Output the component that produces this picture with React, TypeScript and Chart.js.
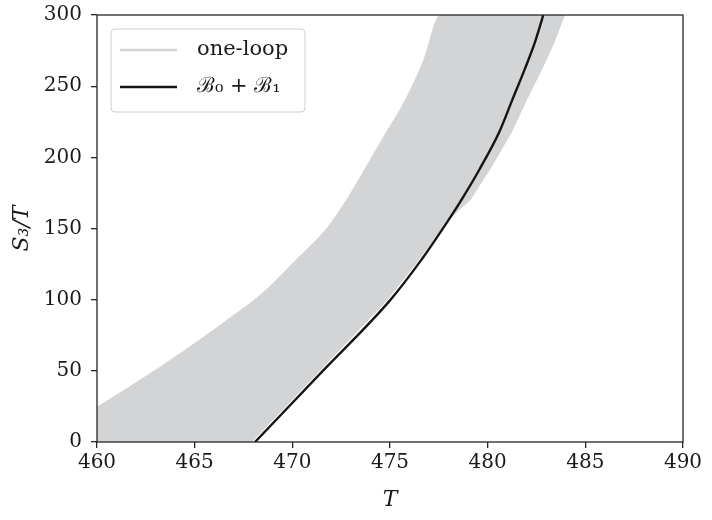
import React, { useEffect, useRef } from "react";
import { Chart, registerables } from "chart.js";

Chart.register(...registerables);

// one-loop band: upper (left) edge
const oneLoopUpperT = [460, 461.6, 463.3, 465.0, 466.7, 468.4, 470.1, 471.85, 472.75, 473.7, 474.7, 475.75, 476.7, 477.56, 484.5];
const oneLoopUpperS = [24.8, 38.5, 53.5, 69.5, 86.5, 104, 127, 152, 170, 192, 215.5, 240, 268, 300, 300];
// one-loop band: lower (right) edge
const oneLoopLowerT = [460, 467.94, 474.85, 476.38, 477.85, 479.12, 480.2, 481.25, 482.0, 482.8, 483.4, 483.96];
const oneLoopLowerS = [0, 0, 99.5, 126, 154, 170, 193, 218, 240, 262, 280, 300];
// B0 + B1 curve
const b0b1T = [468.09, 471.5, 475.0, 476.5, 477.9, 478.65, 479.6, 480.6, 481.25, 481.9, 482.4, 482.85];
const b0b1S = [0, 49.1, 99.5, 126, 154, 170, 192, 218, 240, 262, 280, 300];

const seriesLabels = ["one-loop", "ℬ₀ + ℬ₁"];
const xTitle = "T";
const yTitle = "S₃/T";

const xMin = 460, xMax = 490, xStep = 5;
const yMin = 0, yMax = 300, yStep = 50;

const BAND = "rgb(211,212,214)";
const LINE = "#151515";
const FONT = "'DejaVu Serif', 'Liberation Serif', serif";

const toPts = (xs: number[], ys: number[]) => xs.map((x, i) => ({ x, y: ys[i] }));

const framePlugin = {
  id: "frameAndLegend",
  afterDraw(chart: any) {
    const { ctx, chartArea } = chart;
    const { left, right, top, bottom } = chartArea;
    ctx.save();
    ctx.strokeStyle = "#262626";
    ctx.lineWidth = 1.3;
    ctx.strokeRect(left, top, right - left, bottom - top);

    // legend box
    const bx = left + 14, by = top + 14, bw = 194, bh = 83, r = 4;
    ctx.beginPath();
    ctx.moveTo(bx + r, by);
    ctx.lineTo(bx + bw - r, by);
    ctx.quadraticCurveTo(bx + bw, by, bx + bw, by + r);
    ctx.lineTo(bx + bw, by + bh - r);
    ctx.quadraticCurveTo(bx + bw, by + bh, bx + bw - r, by + bh);
    ctx.lineTo(bx + r, by + bh);
    ctx.quadraticCurveTo(bx, by + bh, bx, by + bh - r);
    ctx.lineTo(bx, by + r);
    ctx.quadraticCurveTo(bx, by, bx + r, by);
    ctx.closePath();
    ctx.fillStyle = "rgba(255,255,255,0.85)";
    ctx.fill();
    ctx.strokeStyle = "#d0d0d0";
    ctx.lineWidth = 1;
    ctx.stroke();

    const rows = [
      { label: seriesLabels[0], color: BAND, y: by + 21 },
      { label: seriesLabels[1], color: LINE, y: by + 58 },
    ];
    ctx.font = `21px ${FONT}`;
    ctx.textBaseline = "middle";
    ctx.textAlign = "left";
    for (const row of rows) {
      ctx.beginPath();
      ctx.strokeStyle = row.color;
      ctx.lineWidth = 2.7;
      ctx.moveTo(bx + 9, row.y);
      ctx.lineTo(bx + 66, row.y);
      ctx.stroke();
      ctx.fillStyle = "#1a1a1a";
      ctx.fillText(row.label, bx + 86, row.y);
    }
    ctx.restore();
  },
};

export default function App() {
  const ref = useRef<HTMLCanvasElement | null>(null);
  useEffect(() => {
    if (!ref.current) return;
    const chart = new Chart(ref.current, {
      type: "line",
      data: {
        datasets: [
          {
            label: seriesLabels[0],
            data: toPts(oneLoopUpperT, oneLoopUpperS),
            borderWidth: 0,
            borderColor: BAND,
            backgroundColor: BAND,
            pointRadius: 0,
            fill: "+1",
            cubicInterpolationMode: "monotone",
            order: 2,
          },
          {
            label: seriesLabels[0] + " lower",
            data: toPts(oneLoopLowerT, oneLoopLowerS),
            borderWidth: 0,
            borderColor: BAND,
            backgroundColor: BAND,
            pointRadius: 0,
            fill: false,
            tension: 0,
            order: 3,
          },
          {
            label: seriesLabels[1],
            data: toPts(b0b1T, b0b1S),
            borderWidth: 2.4,
            borderColor: LINE,
            pointRadius: 0,
            fill: false,
            cubicInterpolationMode: "monotone",
            order: 0,
          },
        ],
      },
      options: {
        animation: false,
        responsive: true,
        maintainAspectRatio: false,
        layout: { padding: { left: 0, right: 29, top: 15, bottom: 0 } },
        plugins: { legend: { display: false }, tooltip: { enabled: false } },
        scales: {
          x: {
            type: "linear",
            min: xMin,
            max: xMax,
            border: { display: false },
            grid: { drawOnChartArea: false, drawTicks: true, tickLength: 6, color: "#262626", lineWidth: 1.3 },
            ticks: { stepSize: xStep, color: "#1a1a1a", font: { family: FONT, size: 20 }, padding: 3, maxRotation: 0 },
            title: { display: true, text: xTitle, color: "#1a1a1a", font: { family: FONT, size: 22, style: "italic" }, padding: { top: 0, bottom: 7 } },
            afterFit: (s: any) => { s.height = 78; },
          },
          y: {
            type: "linear",
            min: yMin,
            max: yMax,
            border: { display: false },
            grid: { drawOnChartArea: false, drawTicks: true, tickLength: 6, color: "#262626", lineWidth: 1.3 },
            ticks: { stepSize: yStep, color: "#1a1a1a", font: { family: FONT, size: 20 }, padding: 9 },
            title: { display: true, text: yTitle, color: "#1a1a1a", font: { family: FONT, size: 22, style: "italic" }, padding: { top: 9, bottom: 0 } },
            afterFit: (s: any) => { s.width = 97; s.paddingTop = 0; s.paddingBottom = 0; },
          },
        },
      },
      plugins: [framePlugin],
    } as any);
    return () => chart.destroy();
  }, []);
  return (
    <div style={{ position: "fixed", left: 0, top: 0, width: 712, height: 520, background: "#fff" }}>
      <canvas ref={ref} />
    </div>
  );
}
